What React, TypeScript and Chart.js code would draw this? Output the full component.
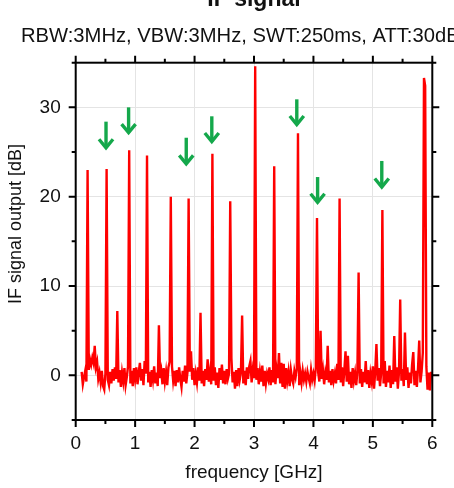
import { useEffect, useRef } from 'react';
import { Chart, registerables } from 'chart.js';

Chart.register(...registerables);

// Texts
const chartTitle = 'IF signal';
const chartSubtitle = 'RBW:3MHz, VBW:3MHz, SWT:250ms, ATT:30dB';
const xAxisTitle = 'frequency [GHz]';
const yAxisTitle = 'IF signal output [dB]';

// Sweep grid of the analyzer trace
const sweepStartGHz = 0.1;
const sweepStepGHz = 0.02;

// Measured IF level per sweep point [dB]
const ifLevelDb = [
  0.4, -1.0, -0.2, 0.5, -0.7, 23.0, 0.6, 1.8, 1.2, 2.0,
  1.4, 3.3, 0.9, 1.5, -0.4, 0.3, -0.8, 0.5, -1.2, -1.6,
  0.2, 23.1, -0.5, -1.1, 0.4, -0.9, 0.7, -0.6, 0.9, -0.4,
  7.2, -0.8, 0.6, -1.3, 0.3, -0.7, 0.8, -1.1, -0.2, 1.0,
  25.2, -0.9, 0.5, -1.2, 0.8, -0.4, 0.9, -1.0, 0.3, 1.4,
  -0.6, 0.7, -1.1, 1.6, 0.2, 24.6, -0.8, 0.4, -1.3, 0.6,
  -0.5, 1.0, -0.9, 0.3, -1.2, 5.6, -0.3, 0.5, -1.0, 0.8,
  -0.7, 0.4, -1.1, 0.9, 1.5, 20.0, 1.0, -0.6, 0.5, -1.2,
  0.6, -0.8, 0.9, -0.4, -1.3, 0.5, -0.7, 1.1, -0.9, 0.3,
  19.8, 0.4, 2.7, -0.5, 0.8, -1.1, 0.2, -0.8, 0.9, -0.6,
  7.0, -0.9, 0.5, -1.2, 0.7, -0.5, 1.8, -0.7, 0.4, -1.0,
  24.8, -0.6, 0.9, -1.1, 0.3, -1.4, 0.8, -0.5, 1.2, -0.9,
  0.5, -1.0, 0.7, -0.4, 0.2, 19.5, 1.9, -0.8, 0.4, -1.5,
  0.6, -1.2, 0.8, -0.5, 0.3, 6.7, -0.9, 0.5, -1.1, 0.9,
  -0.4, 1.0, 1.6, -0.8, 0.6, -0.3, 34.6, -0.5, 0.8, -1.0,
  0.4, -0.7, 1.1, -1.2, 0.5, -0.9, 0.2, -0.4, 0.9, -1.1,
  0.6, -0.8, 23.4, -1.0, 0.7, -0.3, 2.5, -0.9, 1.4, -1.3,
  1.3, -1.5, 0.8, -0.6, 0.4, -1.2, 0.6, -0.4, -0.9, 0.5,
  -0.2, 0.7, 27.1, -1.1, 0.3, -0.8, 0.5, -0.5, 0.2, -0.7,
  0.4, -0.3, -0.9, 0.6, -0.5, 0.2, -0.6, 0.8, 17.6, 0.3,
  -0.7, 5.0, -0.4, 0.6, -1.0, 0.3, -0.5, 3.3, -0.8, 0.5,
  -1.1, 0.7, -0.6, 0.2, -0.9, 1.3, -0.5, 19.8, -0.8, 0.9,
  -1.2, 0.6, 2.7, -0.7, 2.2, -1.0, 0.4, -1.4, 0.8, -0.6,
  0.3, -1.1, 0.5, 11.5, -0.9, 0.7, -1.3, 0.4, -0.8, 1.6,
  -1.0, 0.6, -1.4, 0.2, -0.7, 1.0, -1.5, 0.5, 3.5, -0.6,
  0.8, -1.2, 0.3, 18.5, -0.9, 1.6, -1.3, 0.5, -0.8, 1.1,
  -1.4, 0.6, -1.0, 4.4, -0.7, 0.9, -1.5, 0.4, 8.5, -0.6,
  0.7, -1.2, 4.8, -0.5, 0.9, -1.4, 0.3, -0.9, 1.2, 2.6,
  -1.1, 0.5, -1.3, 0.8, 3.9, -0.8, 0.4, 2.5, 33.3, 32.4,
  1.0, -1.6, 0.3, -1.7, 0.4,
];

// Axes
const xMin = 0;
const xMax = 6;
const yMin = -5;
const yMax = 35;
const xMajorTicks = [0, 1, 2, 3, 4, 5, 6];
const xMinorTicks = [0.5, 1.5, 2.5, 3.5, 4.5, 5.5];
const yMajorTicks = [0, 10, 20, 30];
const yMinorTicks = [-5, 5, 15, 25, 35];

// Green marker arrows pointing at selected peaks
const markerFreqGHz = [0.51, 0.89, 1.86, 2.29, 3.72, 4.07, 5.15];
const markerTailDb = [28.4, 30.0, 26.6, 29.0, 30.9, 22.2, 24.0];
const markerTipDb = [25.2, 26.9, 23.4, 25.9, 27.8, 19.1, 20.8];

const FONT = "'Liberation Sans', Arial, Helvetica, sans-serif";
const INK = '#111111';
const ARROW_GREEN = '#14a84b';

const framePlugin = {
  id: 'frameAndMarkers',
  afterDatasetsDraw(chart: any) {
    const { ctx, chartArea: a, scales } = chart;
    const xs = scales.x;
    const ys = scales.y;
    ctx.save();

    // marker arrows
    ctx.strokeStyle = ARROW_GREEN;
    ctx.lineWidth = 3.4;
    ctx.lineCap = 'butt';
    ctx.lineJoin = 'miter';
    markerFreqGHz.forEach((f, i) => {
      const px = xs.getPixelForValue(f);
      const y0 = ys.getPixelForValue(markerTailDb[i]);
      const y1 = ys.getPixelForValue(markerTipDb[i]);
      ctx.beginPath();
      ctx.moveTo(px, y0);
      ctx.lineTo(px, y1 - 2.5);
      ctx.stroke();
      ctx.beginPath();
      ctx.moveTo(px - 7, y1 - 11);
      ctx.lineTo(px, y1 - 2.5);
      ctx.lineTo(px + 7, y1 - 11);
      ctx.stroke();
    });

    // frame
    ctx.strokeStyle = '#000';
    ctx.lineWidth = 2;
    ctx.lineCap = 'square';
    ctx.strokeRect(a.left, a.top, a.right - a.left, a.bottom - a.top);

    // outward tick marks on all four sides
    const major = 7;
    const minor = 4;
    ctx.lineCap = 'butt';
    const vTick = (v: number, len: number) => {
      const px = xs.getPixelForValue(v);
      ctx.beginPath();
      ctx.moveTo(px, a.bottom);
      ctx.lineTo(px, a.bottom + len);
      ctx.moveTo(px, a.top);
      ctx.lineTo(px, a.top - len);
      ctx.stroke();
    };
    const hTick = (v: number, len: number) => {
      const py = ys.getPixelForValue(v);
      ctx.beginPath();
      ctx.moveTo(a.left, py);
      ctx.lineTo(a.left - len, py);
      ctx.moveTo(a.right, py);
      ctx.lineTo(a.right + len, py);
      ctx.stroke();
    };
    xMajorTicks.forEach((v) => vTick(v, major));
    xMinorTicks.forEach((v) => vTick(v, minor));
    yMajorTicks.forEach((v) => hTick(v, major));
    yMinorTicks.forEach((v) => hTick(v, minor));

    ctx.restore();
  },
  afterDraw(chart: any) {
    const { ctx, chartArea: a } = chart;
    ctx.save();
    ctx.fillStyle = INK;

    ctx.textAlign = 'center';
    ctx.textBaseline = 'alphabetic';
    ctx.font = `bold 23px ${FONT}`;
    ctx.fillText(chartTitle, (a.left + a.right) / 2, 6);

    ctx.textAlign = 'left';
    ctx.font = `20.2px ${FONT}`;
    ctx.fillText(chartSubtitle, 21, 42);

    ctx.textAlign = 'center';
    ctx.font = `19px ${FONT}`;
    ctx.fillText(xAxisTitle, (a.left + a.right) / 2, 477.5);

    ctx.translate(21.3, 224);
    ctx.rotate(-Math.PI / 2);
    ctx.font = `18px ${FONT}`;
    ctx.fillText(yAxisTitle, 0, 0);
    ctx.restore();
  },
};

export default function App() {
  const canvasRef = useRef<HTMLCanvasElement | null>(null);

  useEffect(() => {
    const canvas = canvasRef.current;
    if (!canvas) return;

    const points = ifLevelDb.map((level, i) => ({
      x: sweepStartGHz + i * sweepStepGHz,
      y: level,
    }));

    const tickFont = { family: FONT, size: 19 };

    const chart = new Chart(canvas, {
      type: 'line',
      data: {
        datasets: [
          {
            data: points,
            borderColor: '#ff0000',
            borderWidth: 2.4,
            pointRadius: 0,
            tension: 0,
            fill: false,
          },
        ],
      },
      options: {
        animation: false,
        responsive: true,
        maintainAspectRatio: false,
        events: [],
        layout: { padding: { left: 0, right: 21.7, top: 62.7, bottom: 0 } },
        plugins: {
          legend: { display: false },
          title: { display: false },
          tooltip: { enabled: false },
        },
        scales: {
          x: {
            type: 'linear',
            min: xMin,
            max: xMax,
            afterBuildTicks: (s: any) => {
              s.ticks = xMajorTicks.map((value) => ({ value }));
            },
            afterFit: (s: any) => {
              s.height = 68;
            },
            ticks: {
              font: tickFont,
              color: INK,
              padding: 12,
              maxRotation: 0,
              autoSkip: false,
            },
            grid: { color: '#e4e4e4', lineWidth: 1, drawTicks: false },
            border: { display: false },
          },
          y: {
            type: 'linear',
            min: yMin,
            max: yMax,
            afterBuildTicks: (s: any) => {
              s.ticks = yMajorTicks.map((value) => ({ value }));
            },
            afterFit: (s: any) => {
              s.width = 75.7;
            },
            ticks: {
              font: tickFont,
              color: INK,
              padding: 15,
              autoSkip: false,
            },
            grid: { color: '#e4e4e4', lineWidth: 1, drawTicks: false },
            border: { display: false },
          },
        },
      },
      plugins: [framePlugin],
    });

    return () => chart.destroy();
  }, []);

  return (
    <div
      style={{
        position: 'fixed',
        left: 0,
        top: 0,
        width: 454,
        height: 488,
        background: '#fff',
      }}
    >
      <canvas ref={canvasRef} />
    </div>
  );
}
